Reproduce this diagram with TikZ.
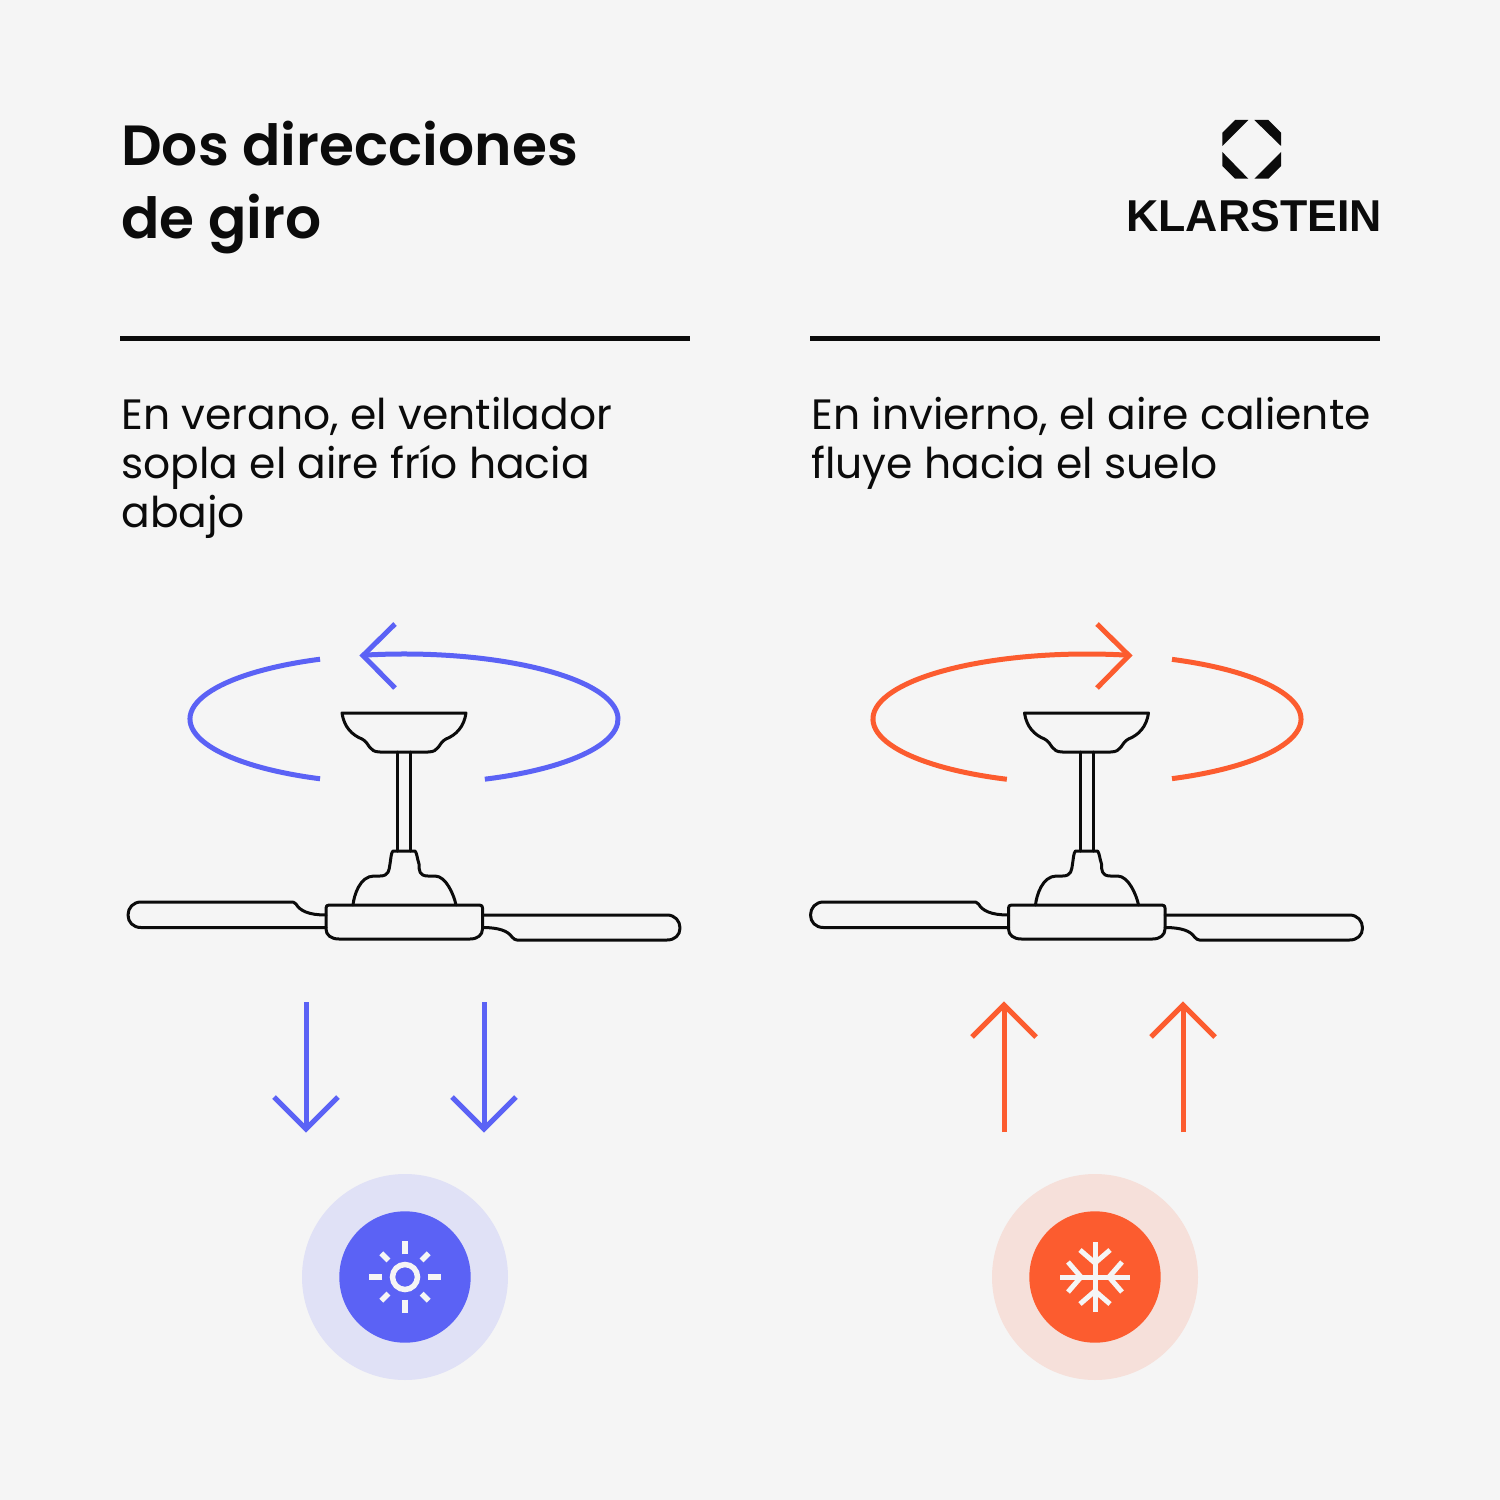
\documentclass[tikz,border=0pt]{standalone}
\usepackage{fontspec}
\setmainfont{Poppins}
\newfontfamily\headfont{Poppins SemiBold}
\newfontfamily\logofont{Liberation Sans}
\definecolor{bgc}{HTML}{F5F5F5}
\definecolor{ink}{HTML}{0B0B0B}
\definecolor{bluec}{HTML}{5B62F5}
\definecolor{redc}{HTML}{FC5C2F}
\definecolor{bluepale}{HTML}{E0E1F6}
\definecolor{redpale}{HTML}{F6E0DA}
\tikzset{
  x=0.02cm,y=-0.02cm,
  px/.style={line width=#1*0.02cm},
  rule/.style={draw=ink,px=5},
  fanline/.style={draw=ink,px=3,line join=round,line cap=round,fill=none},
  flow/.style={px=5,fill=none,line join=miter},
  icon/.style={draw=bgc,px=5.5},
  snowline/.style={draw=bgc,px=5},
  body/.style={anchor=north west,inner sep=0pt,align=left,text=ink,font=\fontsize{24.15}{27.8}\selectfont},
  head/.style={anchor=north west,inner sep=0pt,align=left,text=ink,font=\headfont\fontsize{32.25}{41.3}\selectfont},
  logotext/.style={anchor=base west,inner sep=0pt,text=ink,font=\logofont\bfseries\fontsize{25.4}{27}\selectfont}
}
\newcommand{\fanshape}[1]{%
\begin{scope}[shift={(#1,0)}]
  % canopy
  \draw[fanline] (-62,713) -- (62,713) .. controls (60,727) and (52,735) .. (42,739) .. controls (34,743) and (36,752) .. (24,752) -- (-24,752) .. controls (-36,752) and (-34,743) .. (-42,739) .. controls (-52,735) and (-60,727) .. (-62,713) -- cycle;
  % rod
  \draw[fanline] (-6.5,752) -- (-6.5,851);
  \draw[fanline] (6.5,752) -- (6.5,851);
  % motor cap
  \draw[fanline] (-51,905) .. controls (-50,895) and (-44,876) .. (-30,876) -- (-24,876) .. controls (-15,876) and (-15,870) .. (-14,864) .. controls (-13,858) and (-13,853) .. (-11,851) -- (11,851) .. controls (13,853) and (13,858) .. (15,864) .. controls (15,870) and (15,876) .. (24,876) -- (31,876) .. controls (42,876) and (50,895) .. (52,905);
  % hub
  \draw[fanline] (-78,908) .. controls (-78,906) and (-77,905) .. (-75,905) -- (75.5,905) .. controls (77.5,905) and (78.5,906) .. (78.5,908) -- (78.5,929) .. controls (78.5,935) and (73.5,939) .. (66,939) -- (-65,939) .. controls (-73,939) and (-78,935) .. (-78,929) -- cycle;
  % left blade
  \draw[fanline] (-78,915) .. controls (-95,915) and (-104,911) .. (-108,904) .. controls (-110,902) and (-111,902) .. (-113,902) -- (-263,902) .. controls (-271,902) and (-276,908) .. (-276,915) .. controls (-276,922) and (-271,927.5) .. (-263,927.5) -- (-78,927.5);
  % right blade
  \draw[fanline] (78.5,915) -- (263,915) .. controls (271,915) and (276,921) .. (276,928) .. controls (276,935) and (271,940) .. (263,940) -- (113,940) .. controls (111,940) and (110,939) .. (108,937) .. controls (104,931) and (95,927.5) .. (78.5,927.5);
\end{scope}}
\begin{document}
\begin{tikzpicture}
\useasboundingbox (0,0) rectangle (1500,1500);
\fill[bgc] (0,0) rectangle (1500,1500);

% heading and logo
\node[head] (title) at (121,121) {Dos direcciones\\de giro};
\fill[ink] (1248.3,120) -- (1235,120) -- (1222.3,132.7) -- (1222.3,146) -- cycle;
\fill[ink] (1254.3,120) -- (1268.3,120) -- (1281,132.7) -- (1281,146) -- cycle;
\fill[ink] (1222.3,152) -- (1222.3,166) -- (1235,178.7) -- (1248.3,178.7) -- cycle;
\fill[ink] (1281,152) -- (1281,166) -- (1268.3,178.7) -- (1254.3,178.7) -- cycle;
\node[logotext] (logo) at (1126,232) {KLARSTEIN};

% rules
\draw[rule] (120,338.5) -- (690,338.5);
\draw[rule] (810,338.5) -- (1380,338.5);

% texts
\node[body] (summer) at (121,397) {En verano, el ventilador\\sopla el aire frío hacia\\abajo};
\node[body] (winter) at (811,397) {En invierno, el aire caliente\\fluye hacia el suelo};

% fans
\fanshape{404}
\fanshape{1086.5}

% rotation, left
\draw[flow,bluec] ([shift={(113.1:214 and 65)}]404,719) arc[start angle=113.1,end angle=246.9,x radius=214,y radius=65];
\draw[flow,bluec] ([shift={(-101:214 and 65)}]404,719) arc[start angle=-101,end angle=67.8,x radius=214,y radius=65];
\draw[flow,bluec] (395,624) -- (363,655.5) -- (395,688);
% rotation, right
\draw[flow,redc] ([shift={(112:214 and 65)}]1087,719) arc[start angle=112,end angle=281,x radius=214,y radius=65];
\draw[flow,redc] ([shift={(-66.6:214 and 65)}]1087,719) arc[start angle=-66.6,end angle=66.6,x radius=214,y radius=65];
\draw[flow,redc] (1097,624) -- (1129,655.5) -- (1097,688);

% air arrows
\foreach \ax in {306,484}{
  \draw[flow,bluec] (\ax,1002) -- (\ax,1128);
  \draw[flow,bluec] (\ax-32,1097) -- (\ax,1129) -- (\ax+32,1097);
}
\foreach \ax in {1004,1183}{
  \draw[flow,redc] (\ax,1132) -- (\ax,1006);
  \draw[flow,redc] (\ax-32,1037) -- (\ax,1005) -- (\ax+32,1037);
}

% sun badge
\fill[bluepale] (405,1277) circle[radius=103];
\fill[bluec] (405,1277) circle[radius=65.7];
\begin{scope}[shift={(405,1277)}]
  \draw[icon] (0,0) circle[radius=12.5];
  \foreach \a in {0,90,180,270} \draw[icon,rotate=\a] (22.7,0) -- (36,0);
  \foreach \a in {45,135,225,315} \draw[icon,rotate=\a] (23.5,0) -- (33.5,0);
\end{scope}

% snow badge
\fill[redpale] (1095,1277) circle[radius=103];
\fill[redc] (1095,1277) circle[radius=65.7];
\begin{scope}[shift={(1095,1277)}]
  \foreach \a in {0,90,180,270}{
    \draw[snowline,rotate=\a] (0,0) -- (35,0);
    \draw[snowline,rotate=\a] (27,-15) -- (14,0) -- (27,15);
  }
\end{scope}
\end{tikzpicture}
\end{document}
